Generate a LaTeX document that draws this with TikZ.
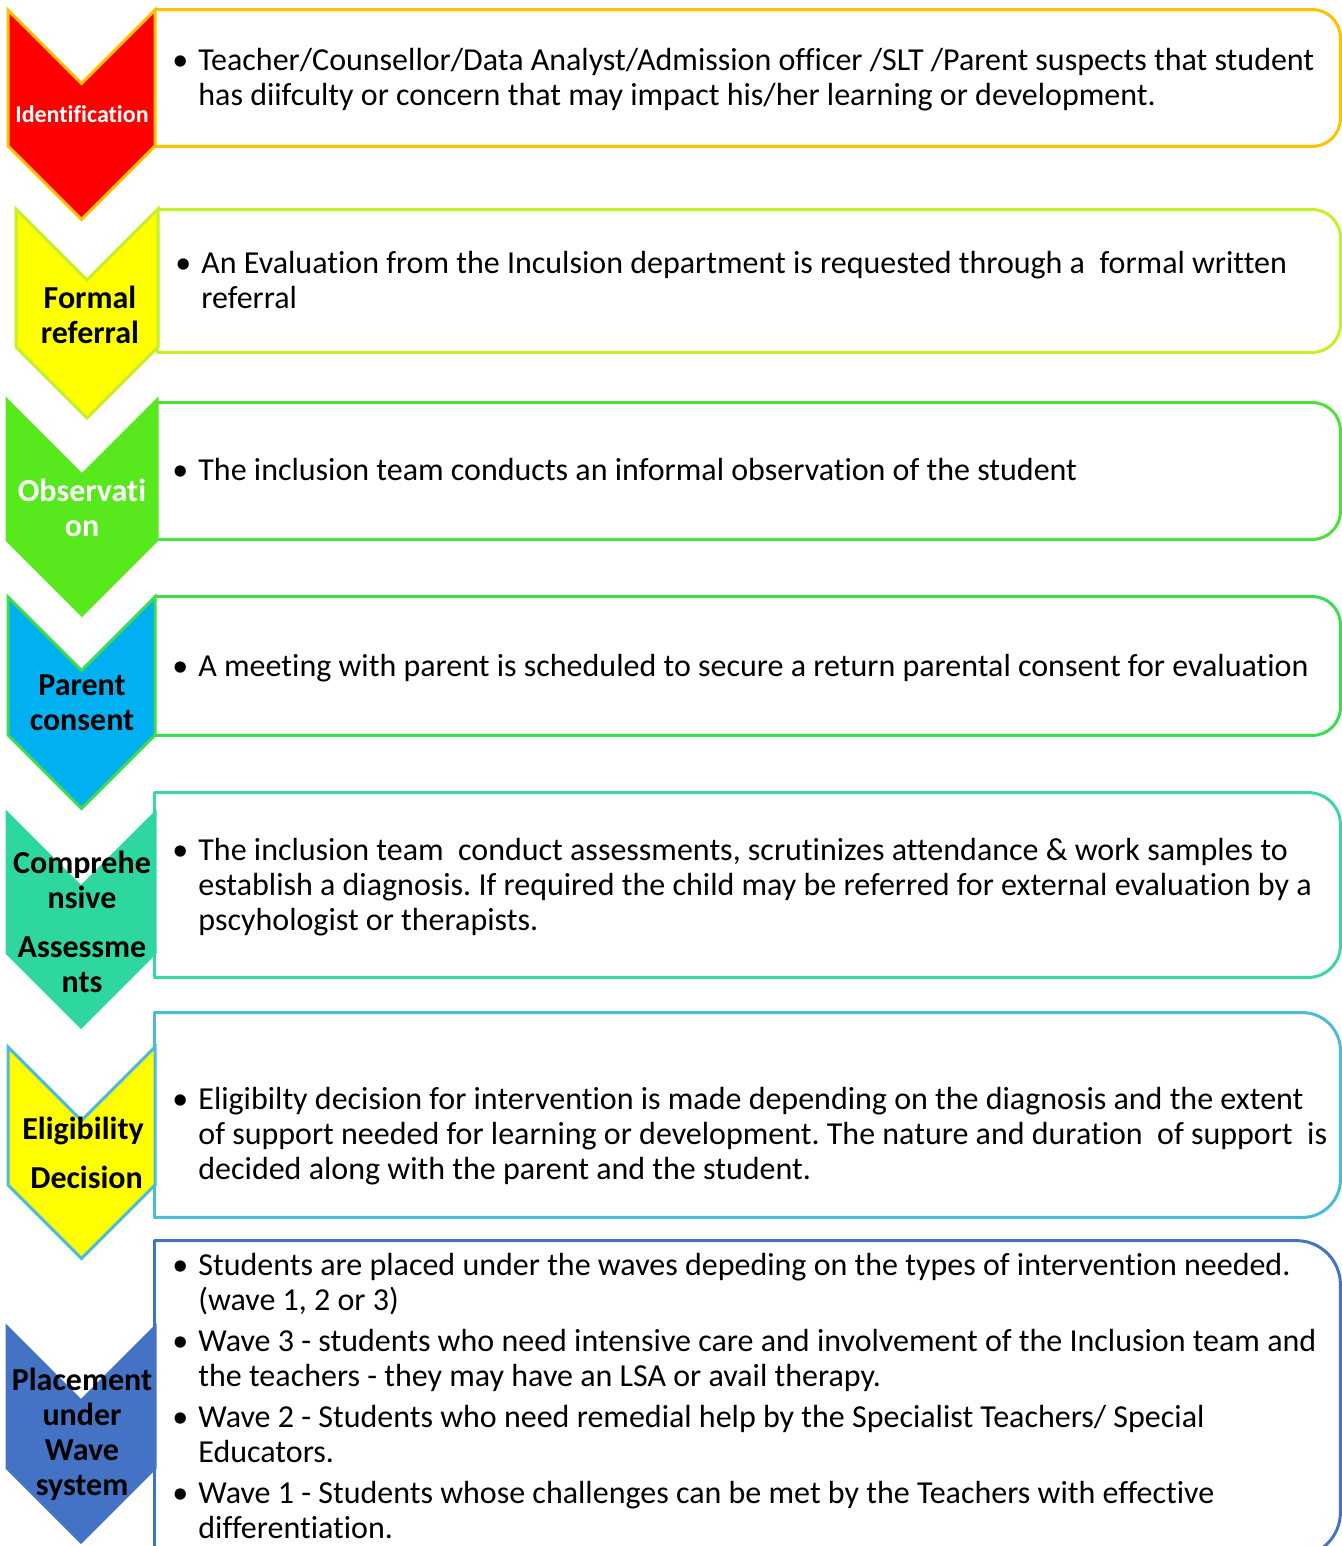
\documentclass[tikz,border=0pt]{standalone}
\usepackage{fontspec}
\setmainfont{Carlito}[Ligatures=NoCommon]
\usetikzlibrary{positioning, fit}
\frenchspacing

\definecolor{idred}{RGB}{255,0,0}
\definecolor{gold}{RGB}{255,192,0}
\definecolor{lemon}{RGB}{255,255,0}
\definecolor{lime}{RGB}{196,240,40}
\definecolor{grass}{RGB}{88,232,30}
\definecolor{grassline}{RGB}{80,224,60}
\definecolor{sky}{RGB}{0,176,240}
\definecolor{mint}{RGB}{60,220,80}
\definecolor{jade}{RGB}{46,214,160}
\definecolor{jadeline}{RGB}{58,214,168}
\definecolor{cyanline}{RGB}{75,188,216}
\definecolor{wave}{RGB}{68,114,196}

\tikzset{
  chevron/.style={line width=1.5pt, line join=miter},
  frame/.style={line width=1.5pt, line cap=round, line join=round},
  stage/.style={font=\bfseries\fontsize{16}{17.5}\selectfont, align=center, inner sep=0pt},
  detail/.style={font=\fontsize{16}{17.5}\selectfont, align=left, anchor=north west, inner sep=0pt},
  area/.style={inner sep=0pt}
}
\newcommand{\pt}{\llap{\textbullet\hspace{5pt}}}

\begin{document}
\begin{tikzpicture}[x=0.5pt, y=-0.5pt]
    \useasboundingbox (0,0) rectangle (1342,1546);

    % boxes
    \node[area, fit={(155,10) (1340,146)}] (b1) {};
    \node[area, fit={(158,210) (1340,352)}] (b2) {};
    \node[area, fit={(155,403) (1340,539)}] (b3) {};
    \node[area, fit={(155,597) (1340,735)}] (b4) {};
    \node[area, fit={(155,793) (1340,977)}] (b5) {};
    \node[area, fit={(155,1013) (1340,1217)}] (b6) {};
    \node[area, fit={(155,1241) (1340,1556)}] (b7) {};

    \foreach \b/\c/\r in {b1/gold/14pt, b2/lime/14pt, b3/grassline/14pt,
                          b4/mint/14pt, b5/jadeline/16pt, b6/cyanline/19pt,
                          b7/wave/22pt} {
        \draw[frame, \c, rounded corners=\r] (\b.north west) -- (\b.north east)
            -- (\b.south east) -- (\b.south west);
        \draw[frame, \c] (\b.north west) -- (\b.south west);
    }

    % chevrons
    \foreach \l/\r/\t/\s/\f/\d in {8/155/10/146/idred/gold,
                                   16/158/209/347/lemon/lime,
                                   7/157/400/540/grass/grass,
                                   8/155/597/735/sky/mint,
                                   7/155/813/953/jade/jade,
                                   8/155/1047/1185/lemon/cyanline,
                                   7/155/1327/1468/wave/wave} {
        \pgfmathsetmacro{\m}{(\l+\r)/2}
        \pgfmathsetmacro{\h}{(\r-\l)/2}
        \filldraw[chevron, fill=\f, draw=\d] (\l,\t) -- (\m,\t+\h) -- (\r,\t)
            -- (\r,\s) -- (\m,\s+\h) -- (\l,\s) -- cycle;
    }

    % stage labels
    \node[stage, white, font=\bfseries\fontsize{12}{14}\selectfont] (c1) at (82,114) {Identification};
    \node[stage] (c2) at (90,315) {Formal\\referral};
    \node[stage, white] (c3) at (82,508) {Observati\\on};
    \node[stage] (c4) at (82,703) {Parent\\consent};
    \node[stage] (c5) at (82,922) {Comprehe\\nsive\\[7pt]Assessme\\nts};
    \node[stage] (c6) at (83,1153) {Eligibility\\[7pt]\ Decision};
    \node[stage] (c7) at (82,1434) {Placement\\under\\Wave\\system};

    % details
    \node[detail] (t1) at (198,45.5) {\pt\strut Teacher/Counsellor/Data Analyst/Admission officer /SLT /Parent suspects that student\\
        has diifculty or concern that may impact his/her learning or development.};
    \node[detail] (t2) at (201,248.5) {\pt\strut An Evaluation from the Inculsion department is requested through a\ \ formal written\\
        referral};
    \node[detail] (t3) at (198,455.5) {\pt\strut The inclusion team conducts an informal observation of the student};
    \node[detail] (t4) at (198,651.5) {\pt\strut A meeting with parent is scheduled to secure a return parental consent for evaluation};
    \node[detail] (t5) at (198,835.5) {\pt\strut The inclusion team\ \ conduct assessments, scrutinizes attendance \& work samples to\\
        establish a diagnosis. If required the child may be referred for external evaluation by a\\
        pscyhologist or therapists.};
    \node[detail] (t6) at (198,1084.5) {\pt\strut Eligibilty decision for intervention is made depending on the diagnosis and the extent\\
        of support needed for learning or development. The nature and duration\ \ of support\ \ is\\
        decided along with the parent and the student.};
    \node[detail] (t7) at (198,1250.5) {\pt\strut Students are placed under the waves depeding on the types of intervention needed.\\
        (wave 1, 2 or 3)\\[3pt]
        \pt Wave 3 - students who need intensive care and involvement of the Inclusion team and\\
        the teachers - they may have an LSA or avail therapy.\\[3pt]
        \pt Wave 2 - Students who need remedial help by the Specialist Teachers/ Special\\
        Educators.\\[3pt]
        \pt Wave 1 - Students whose challenges can be met by the Teachers with effective\\
        differentiation.};
\end{tikzpicture}
\end{document}
